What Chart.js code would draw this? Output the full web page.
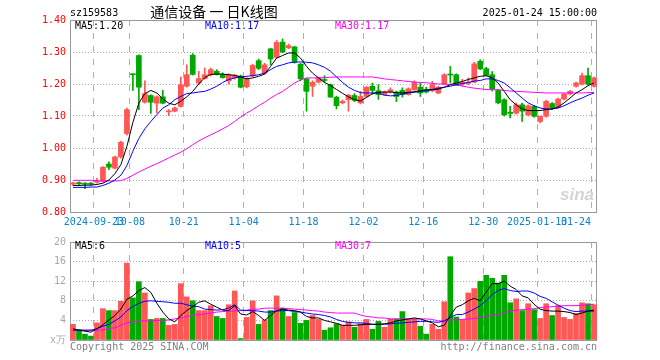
<!DOCTYPE html>
<html>
<head>
<meta charset="utf-8">
<script src="https://cdn.jsdelivr.net/npm/chart.js@4.4.1/dist/chart.umd.min.js"></script>
<style>
  html, body { margin: 0; padding: 0; background: #fff; }
  #wrap { position: relative; width: 660px; height: 360px; overflow: hidden; }
  canvas { position: absolute; left: 0; }
  #kChart { top: 0; }
  #volChart { top: 232px; }
</style>
</head>
<body>
<div id="wrap">
  <canvas id="kChart" width="660" height="232"></canvas>
  <canvas id="volChart" width="660" height="128"></canvas>
</div>
<script>
// trading days shown on the chart
const dates = [
  '2024-09-13','2024-09-18','2024-09-19','2024-09-20','2024-09-23','2024-09-24','2024-09-25','2024-09-26','2024-09-27','2024-09-30',
  '2024-10-08','2024-10-09','2024-10-10','2024-10-11','2024-10-14','2024-10-15','2024-10-16','2024-10-17','2024-10-18','2024-10-21',
  '2024-10-22','2024-10-23','2024-10-24','2024-10-25','2024-10-28','2024-10-29','2024-10-30','2024-10-31','2024-11-01','2024-11-04',
  '2024-11-05','2024-11-06','2024-11-07','2024-11-08','2024-11-11','2024-11-12','2024-11-13','2024-11-14','2024-11-15','2024-11-18',
  '2024-11-19','2024-11-20','2024-11-21','2024-11-22','2024-11-25','2024-11-26','2024-11-27','2024-11-28','2024-11-29','2024-12-02',
  '2024-12-03','2024-12-04','2024-12-05','2024-12-06','2024-12-09','2024-12-10','2024-12-11','2024-12-12','2024-12-13','2024-12-16',
  '2024-12-17','2024-12-18','2024-12-19','2024-12-20','2024-12-23','2024-12-24','2024-12-25','2024-12-26','2024-12-27','2024-12-30',
  '2024-12-31','2025-01-02','2025-01-03','2025-01-06','2025-01-07','2025-01-08','2025-01-09','2025-01-10','2025-01-13','2025-01-14',
  '2025-01-15','2025-01-16','2025-01-17','2025-01-20','2025-01-21','2025-01-22','2025-01-23','2025-01-24'
];

const openP = [
  0.887,0.892,0.889,0.890,0.893,0.896,0.950,0.937,0.972,1.045,
  1.232,1.289,1.143,1.164,1.140,1.160,1.113,1.115,1.130,1.193,
  1.290,1.203,1.217,1.229,1.240,1.230,1.210,1.220,1.225,1.191,
  1.226,1.273,1.234,1.310,1.283,1.331,1.313,1.316,1.262,1.216,
  1.193,1.206,1.213,1.198,1.159,1.141,1.151,1.164,1.141,1.161,
  1.193,1.179,1.167,1.175,1.175,1.180,1.167,1.182,1.190,1.182,
  1.179,1.172,1.200,1.231,1.229,1.200,1.202,1.206,1.271,1.248,
  1.229,1.180,1.151,1.112,1.109,1.135,1.104,1.130,1.083,1.099,
  1.139,1.128,1.153,1.169,1.193,1.200,1.226,1.193
];
const highP = [
  0.893,0.894,0.892,0.893,0.905,0.942,0.957,0.975,1.022,1.125,
  1.232,1.291,1.210,1.166,1.163,1.180,1.120,1.128,1.222,1.260,
  1.295,1.240,1.250,1.250,1.245,1.235,1.232,1.230,1.228,1.220,
  1.262,1.278,1.265,1.312,1.336,1.341,1.325,1.318,1.265,1.218,
  1.210,1.222,1.226,1.200,1.162,1.150,1.168,1.170,1.177,1.192,
  1.203,1.198,1.178,1.188,1.178,1.188,1.188,1.210,1.203,1.190,
  1.208,1.193,1.232,1.255,1.232,1.215,1.219,1.268,1.276,1.252,
  1.239,1.183,1.154,1.130,1.140,1.140,1.135,1.133,1.100,1.150,
  1.142,1.156,1.170,1.180,1.206,1.234,1.250,1.222
];
const lowP = [
  0.882,0.885,0.873,0.884,0.890,0.894,0.932,0.935,0.968,1.040,
  1.180,1.120,1.140,1.108,1.110,1.138,1.101,1.113,1.128,1.190,
  1.228,1.200,1.215,1.225,1.228,1.218,1.200,1.215,1.188,1.188,
  1.222,1.245,1.230,1.260,1.280,1.298,1.310,1.265,1.210,1.115,
  1.161,1.203,1.205,1.158,1.122,1.138,1.115,1.145,1.138,1.158,
  1.168,1.152,1.164,1.172,1.145,1.159,1.165,1.180,1.161,1.172,
  1.176,1.170,1.198,1.203,1.195,1.193,1.198,1.204,1.245,1.225,
  1.178,1.138,1.100,1.094,1.106,1.083,1.100,1.096,1.078,1.096,
  1.120,1.125,1.150,1.166,1.190,1.197,1.196,1.190
];
const closeP = [
  0.891,0.888,0.887,0.887,0.897,0.940,0.940,0.972,1.018,1.120,
  1.229,1.190,1.170,1.143,1.160,1.140,1.116,1.125,1.198,1.229,
  1.230,1.217,1.229,1.245,1.230,1.220,1.229,1.227,1.190,1.216,
  1.258,1.249,1.260,1.278,1.330,1.300,1.320,1.269,1.216,1.177,
  1.205,1.219,1.211,1.159,1.132,1.146,1.165,1.149,1.161,1.190,
  1.180,1.167,1.175,1.182,1.161,1.167,1.185,1.205,1.172,1.175,
  1.198,1.190,1.229,1.228,1.198,1.206,1.205,1.263,1.247,1.227,
  1.184,1.141,1.104,1.108,1.135,1.115,1.132,1.099,1.099,1.146,
  1.125,1.153,1.169,1.177,1.203,1.226,1.200,1.219
];

// moving averages as drawn on the price panel
const ma5 = [
  0.883,0.883,0.884,0.884,0.886,0.890,0.900,0.920,0.948,1.005,
  1.080,1.140,1.170,1.180,1.172,1.153,1.140,1.135,1.146,1.160,
  1.177,1.200,1.220,1.230,1.231,1.231,1.229,1.227,1.222,1.216,
  1.219,1.224,1.231,1.255,1.281,1.289,1.297,1.297,1.281,1.255,
  1.234,1.219,1.205,1.195,1.183,1.171,1.160,1.151,1.147,1.158,
  1.170,1.174,1.175,1.175,1.173,1.172,1.174,1.176,1.179,1.182,
  1.182,1.184,1.190,1.198,1.203,1.208,1.214,1.219,1.224,1.226,
  1.219,1.203,1.177,1.151,1.135,1.122,1.117,1.117,1.117,1.120,
  1.122,1.128,1.141,1.156,1.172,1.182,1.195,1.203
];
const ma10 = [
  0.877,0.877,0.877,0.878,0.878,0.883,0.890,0.900,0.915,0.945,
  0.990,1.030,1.060,1.083,1.104,1.125,1.135,1.151,1.161,1.170,
  1.172,1.175,1.177,1.184,1.193,1.205,1.214,1.219,1.222,1.224,
  1.226,1.229,1.234,1.245,1.255,1.260,1.266,1.268,1.269,1.268,
  1.266,1.260,1.252,1.240,1.222,1.205,1.190,1.180,1.173,1.172,
  1.172,1.171,1.165,1.163,1.164,1.168,1.172,1.174,1.176,1.179,
  1.183,1.187,1.190,1.193,1.198,1.201,1.205,1.209,1.211,1.216,
  1.216,1.211,1.203,1.188,1.172,1.156,1.141,1.132,1.125,1.122,
  1.122,1.125,1.132,1.141,1.149,1.156,1.165,1.172
];
const ma30 = [
  0.899,0.899,0.899,0.899,0.898,0.897,0.897,0.897,0.898,0.905,
  0.915,0.925,0.934,0.943,0.951,0.960,0.969,0.978,0.987,0.998,
  1.010,1.022,1.032,1.041,1.050,1.060,1.070,1.083,1.097,1.109,
  1.120,1.132,1.143,1.156,1.167,1.177,1.190,1.203,1.213,1.219,
  1.219,1.219,1.220,1.221,1.222,1.222,1.222,1.222,1.222,1.222,
  1.222,1.219,1.216,1.214,1.212,1.210,1.208,1.206,1.205,1.204,
  1.202,1.200,1.200,1.198,1.196,1.194,1.190,1.187,1.185,1.183,
  1.182,1.182,1.180,1.178,1.177,1.176,1.175,1.174,1.173,1.172,
  1.172,1.172,1.172,1.172,1.172,1.172,1.173,1.174
];

// volume (x 10k)
const volume = [
  3.2,2.1,1.2,0.8,3.5,6.4,6.0,6.0,7.9,15.7,
  8.6,11.9,9.6,4.2,4.4,4.4,3.0,3.2,11.5,8.8,
  8.0,6.0,6.0,7.0,4.8,4.4,7.2,10.0,0.3,4.6,
  8.0,3.2,4.1,6.0,9.0,6.5,4.8,5.6,3.4,4.0,
  5.0,4.2,2.0,2.5,3.3,3.0,3.7,2.6,3.3,4.2,
  2.2,3.8,2.6,4.3,4.3,5.8,4.3,4.3,2.8,1.2,
  3.2,2.2,7.8,17.0,4.7,4.2,9.6,10.5,12.0,13.2,
  12.6,11.6,13.2,7.6,8.4,6.0,7.4,6.2,4.4,7.4,
  5.0,7.0,4.6,4.2,5.4,7.6,7.4,7.2
];
const volMa5 = [
  2.3,2.0,1.8,1.6,2.3,3.1,4.1,5.0,6.3,8.3,
  9.0,10.1,10.7,9.7,7.5,5.7,4.3,3.7,5.0,6.0,
  6.8,7.7,8.0,7.3,6.7,6.1,6.0,7.0,5.3,5.1,
  5.8,5.0,4.0,5.0,6.0,6.3,6.1,6.0,5.7,4.8,
  4.5,4.5,4.0,3.7,3.4,3.0,3.0,3.0,3.1,3.2,
  3.2,3.2,3.3,3.5,3.9,4.1,4.3,4.5,4.3,3.9,
  3.5,2.7,3.0,5.0,6.7,7.2,8.0,8.5,8.0,9.8,
  11.5,11.5,12.0,11.0,10.3,9.0,8.6,7.3,6.3,6.0,
  5.9,5.9,5.8,5.6,5.2,5.5,5.9,6.1
];
const volMa10 = [
  2.0,2.0,2.0,2.0,2.3,2.8,3.2,3.9,4.7,6.0,
  6.8,7.5,7.9,8.0,7.9,7.8,7.7,7.5,7.5,7.2,
  6.9,6.8,6.3,6.2,6.1,6.2,6.5,7.2,6.1,6.0,
  6.0,5.9,5.7,5.7,5.9,6.0,6.0,5.8,5.7,5.5,
  5.3,5.2,5.0,4.7,4.2,3.8,3.6,3.5,3.5,3.4,
  3.2,3.2,3.2,3.3,3.4,3.5,3.6,3.7,3.8,3.8,
  3.7,3.6,3.9,4.6,5.2,5.2,5.7,6.3,7.0,8.0,
  9.3,10.1,10.5,10.1,9.9,10.0,10.0,9.6,8.9,8.5,
  7.8,7.1,6.5,6.0,5.8,5.9,5.9,5.9
];
const volMa30 = [
  2.0,2.0,2.0,2.0,2.0,2.1,2.3,2.5,3.0,3.5,
  3.7,3.9,3.9,3.9,4.0,4.0,4.1,4.3,4.5,4.8,
  5.0,5.2,5.3,5.5,5.7,5.8,5.9,5.9,6.0,6.1,
  6.3,6.3,6.5,6.5,6.5,6.5,6.4,6.3,6.2,6.1,
  6.0,5.9,5.7,5.6,5.5,5.5,5.5,5.5,5.1,4.8,
  4.7,4.5,4.5,4.3,4.3,4.3,4.3,4.3,4.3,4.3,
  4.2,3.9,3.9,4.1,4.1,4.2,4.3,4.4,4.6,4.8,
  5.0,5.2,5.5,5.9,6.1,6.2,6.3,6.4,6.6,6.7,
  6.8,6.9,7.0,7.0,7.0,7.1,7.2,7.3
];

// x axis marks
const tickDates = ['2024-09-23','2024-10-08','2024-10-21','2024-11-04','2024-11-18','2024-12-02','2024-12-16','2024-12-30','2025-01-13','2025-01-24'];
const tickLabels = ['2024-09-23','10-08','10-21','11-04','11-18','12-02','12-16','12-30','2025-01-13','01-24'];

const stockCode = 'sz159583';
const chartTitle = '通信设备 一 日K线图';
const stampText = '2025-01-24 15:00:00';

const MONO = '10px "DejaVu Sans Mono", monospace';
const UP = '#ff5656';
const DOWN = '#00a800';

const tickIdx = tickDates.map(d => dates.indexOf(d));
const candleColor = closeP.map((c, i) => c >= openP[i] ? UP : DOWN);
const last = dates.length - 1;

function edgeX(scale, i) {
  const step = scale.getPixelForValue(1) - scale.getPixelForValue(0);
  return scale.getPixelForValue(i) - step / 2;
}

function xAxisOpts(h) {
  return {
    offset: true,
    afterFit: (s) => { s.height = h; },
    ticks: { display: false, autoSkip: false },
    grid: {
      drawTicks: false,
      lineWidth: 1,
      color: (c) => tickIdx.includes(c.index) ? '#b0b0b0' : 'rgba(0,0,0,0)'
    },
    border: { display: false, dash: [6, 7] }
  };
}

const framePlugin = {
  id: 'frame',
  beforeDatasetsDraw(chart) {
    const { ctx, chartArea: a } = chart;
    ctx.save();
    ctx.strokeStyle = '#999';
    ctx.lineWidth = 1;
    ctx.strokeRect(Math.round(a.left) + 0.5, Math.round(a.top) + 0.5,
      Math.round(a.right - a.left) - 1, Math.round(a.bottom - a.top));
    ctx.restore();
  }
};

const priceText = {
  id: 'priceText',
  afterDraw(chart) {
    const ctx = chart.ctx;
    const xs = chart.scales.x;
    ctx.save();
    ctx.textBaseline = 'middle';
    ctx.font = MONO;
    ctx.fillStyle = '#000';
    ctx.textAlign = 'left';
    ctx.fillText(stockCode, 70, 13);
    ctx.textAlign = 'right';
    ctx.fillText(stampText, 597, 13);
    ctx.font = '14px "Noto Sans CJK SC", sans-serif';
    ctx.textAlign = 'center';
    ctx.fillText(chartTitle, 214, 12);

    ctx.font = MONO;
    ctx.textAlign = 'left';
    ctx.fillStyle = '#000';
    ctx.fillText('MA5:' + ma5[last].toFixed(2), 75, 26);
    ctx.fillStyle = '#0000ff';
    ctx.fillText('MA10:' + ma10[last].toFixed(2), 205, 26);
    ctx.fillStyle = '#ff00ff';
    ctx.fillText('MA30:' + ma30[last].toFixed(2), 335, 26);

    // date labels under the price panel
    ctx.fillStyle = '#0a84d0';
    tickIdx.forEach((idx, k) => {
      const x = edgeX(xs, idx);
      ctx.textAlign = k === tickIdx.length - 1 ? 'right' : 'center';
      ctx.fillText(tickLabels[k], x, 222);
    });

    // sina watermark
    ctx.fillStyle = '#d4d4d4';
    ctx.font = 'italic bold 17px "Liberation Sans", Arial, sans-serif';
    ctx.textAlign = 'right';
    ctx.textBaseline = 'alphabetic';
    ctx.fillText('sina', 594, 200);
    ctx.restore();
  }
};

const volText = {
  id: 'volText',
  afterDraw(chart) {
    const ctx = chart.ctx;
    ctx.save();
    ctx.textBaseline = 'middle';
    ctx.font = MONO;
    ctx.textAlign = 'left';
    ctx.fillStyle = '#000';
    ctx.fillText('MA5:' + Math.floor(volMa5[last]), 75, 14);
    ctx.fillStyle = '#0000ff';
    ctx.fillText('MA10:' + Math.floor(volMa10[last]), 205, 14);
    ctx.fillStyle = '#ff00ff';
    ctx.fillText('MA30:' + Math.floor(volMa30[last]), 335, 14);
    ctx.fillStyle = '#808080';
    ctx.fillText('Copyright 2025 SINA.COM', 70, 115);
    ctx.textAlign = 'right';
    ctx.fillText('http://finance.sina.com.cn', 597, 115);
    ctx.restore();
  }
};

function maLine(data, color) {
  return {
    type: 'line', data: data, borderColor: color, borderWidth: 1,
    pointRadius: 0, tension: 0, fill: false, order: 0
  };
}

new Chart(document.getElementById('kChart'), {
  type: 'bar',
  data: {
    labels: dates,
    datasets: [
      maLine(ma5, '#000000'),
      maLine(ma10, '#0000ff'),
      maLine(ma30, '#ff00ff'),
      {
        data: openP.map((o, i) => [o, closeP[i]]),
        backgroundColor: candleColor,
        barThickness: 5, minBarLength: 1, grouped: false, borderWidth: 0, order: 1
      },
      {
        data: lowP.map((l, i) => [l, highP[i]]),
        backgroundColor: candleColor,
        barThickness: 1, grouped: false, borderWidth: 0, order: 2
      }
    ]
  },
  options: {
    responsive: false,
    animation: false,
    events: [],
    layout: { padding: { top: 20, right: 63, left: 0, bottom: 0 } },
    plugins: { legend: { display: false }, tooltip: { enabled: false } },
    scales: {
      x: xAxisOpts(20),
      y: {
        min: 0.8, max: 1.4,
        afterFit: (s) => { s.width = 70; },
        ticks: {
          stepSize: 0.1, padding: 4, color: '#ff0000',
          font: { family: '"DejaVu Sans Mono", monospace', size: 10 },
          callback: (v) => Number(v).toFixed(2)
        },
        grid: { drawTicks: false, color: '#aaaaaa' },
        border: { display: false, dash: [1, 2] }
      }
    }
  },
  plugins: [framePlugin, priceText]
});

new Chart(document.getElementById('volChart'), {
  type: 'bar',
  data: {
    labels: dates,
    datasets: [
      maLine(volMa5, '#000000'),
      maLine(volMa10, '#0000ff'),
      maLine(volMa30, '#ff00ff'),
      {
        data: volume,
        backgroundColor: candleColor,
        barThickness: 5, grouped: false, borderWidth: 0, order: 1
      }
    ]
  },
  options: {
    responsive: false,
    animation: false,
    events: [],
    layout: { padding: { top: 8, right: 63, left: 0, bottom: 0 } },
    plugins: { legend: { display: false }, tooltip: { enabled: false } },
    scales: {
      x: xAxisOpts(20),
      y: {
        min: 0, max: 20,
        afterFit: (s) => { s.width = 70; },
        ticks: {
          stepSize: 4, padding: 4, color: '#a8a8a8',
          font: { family: '"DejaVu Sans Mono", monospace', size: 10 },
          callback: (v) => v === 0 ? 'x万' : v
        },
        grid: { drawTicks: false, color: '#aaaaaa' },
        border: { display: false, dash: [1, 2] }
      }
    }
  },
  plugins: [framePlugin, volText]
});
</script>
</body>
</html>
